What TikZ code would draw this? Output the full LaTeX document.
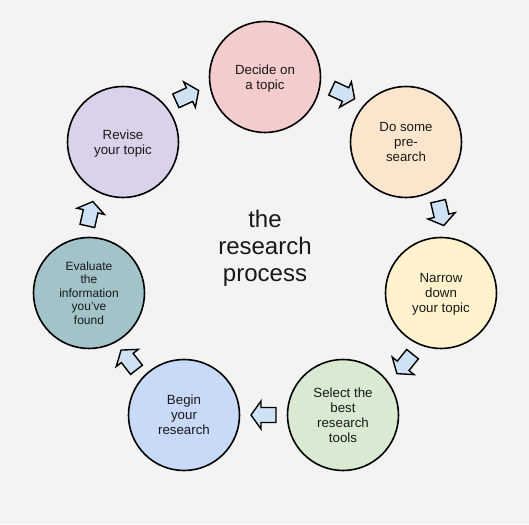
\documentclass[tikz,border=0pt]{standalone}
\usepackage{fontspec}
\setmainfont{Liberation Sans}
\usetikzlibrary{calc}

\definecolor{bggray}{HTML}{F3F3F3}
\definecolor{decidepink}{HTML}{F4CCCC}
\definecolor{searchpeach}{HTML}{FCE5CD}
\definecolor{narrowyellow}{HTML}{FFF2CC}
\definecolor{selectgreen}{HTML}{D9EAD3}
\definecolor{beginblue}{HTML}{C9DAF8}
\definecolor{evalteal}{HTML}{A2C4C9}
\definecolor{revisepurple}{HTML}{D9D2E9}
\definecolor{arrowblue}{HTML}{CFE2F3}

\tikzset{
  stage/.style={circle, draw=black, line width=1.6pt, minimum size=111pt,
    inner sep=0pt, align=center, text=black!90, text depth=-2pt,
    font=\fontsize{13.3}{15}\selectfont},
  flow/.style={draw=black, line width=1.4pt, fill=arrowblue, line join=miter},
  blockarrow/.pic={
    \path[flow] (-12.5,-7.5) -- (2.5,-7.5) -- (2.5,-14) -- (12.5,0)
      -- (2.5,14) -- (2.5,7.5) -- (-12.5,7.5) -- cycle;
  }
}

\begin{document}
\begin{tikzpicture}[x=1pt,y=1pt]
\fill[bggray] (0,0) rectangle (529,524);
\useasboundingbox (0,0) rectangle (529,524);

\coordinate (hub) at (265,269);
\node[font=\fontsize{24}{27}\selectfont, align=center, text=black!90] (title) at (265,276) {the\\research\\process};

\node[stage, fill=decidepink] (decide) at (265,447) {Decide on\\a topic};
\node[stage, fill=searchpeach] (presearch) at (406,382) {Do some\\pre-\\search};
\node[stage, fill=narrowyellow] (narrow) at (441,231) {Narrow\\down\\your topic};
\node[stage, fill=selectgreen] (select) at (343,109) {Select the\\best\\research\\tools};
\node[stage, fill=beginblue] (begin) at (184,109) {Begin\\your\\research};
\node[stage, fill=evalteal, font=\fontsize{12}{13.5}\selectfont, text depth=0pt] (evaluate) at (89,231) {Evaluate\\the\\information\\you've\\found};
\node[stage, fill=revisepurple] (revise) at (123,382) {Revise\\your topic};

% block arrows between the stages
\foreach \from/\to/\k in {revise/decide/1.095, decide/presearch/1.11,
    presearch/narrow/1.11, narrow/select/1.10, select/begin/1.0,
    begin/evaluate/1.06, evaluate/revise/1.10}{
  \path let \p1 = ($(\to)-(\from)$), \n1 = {atan2(\y1,\x1)} in
    ($(hub)!\k!($(\from)!0.5!(\to)$)$) pic[rotate=\n1] {blockarrow};
}
\end{tikzpicture}
\end{document}
